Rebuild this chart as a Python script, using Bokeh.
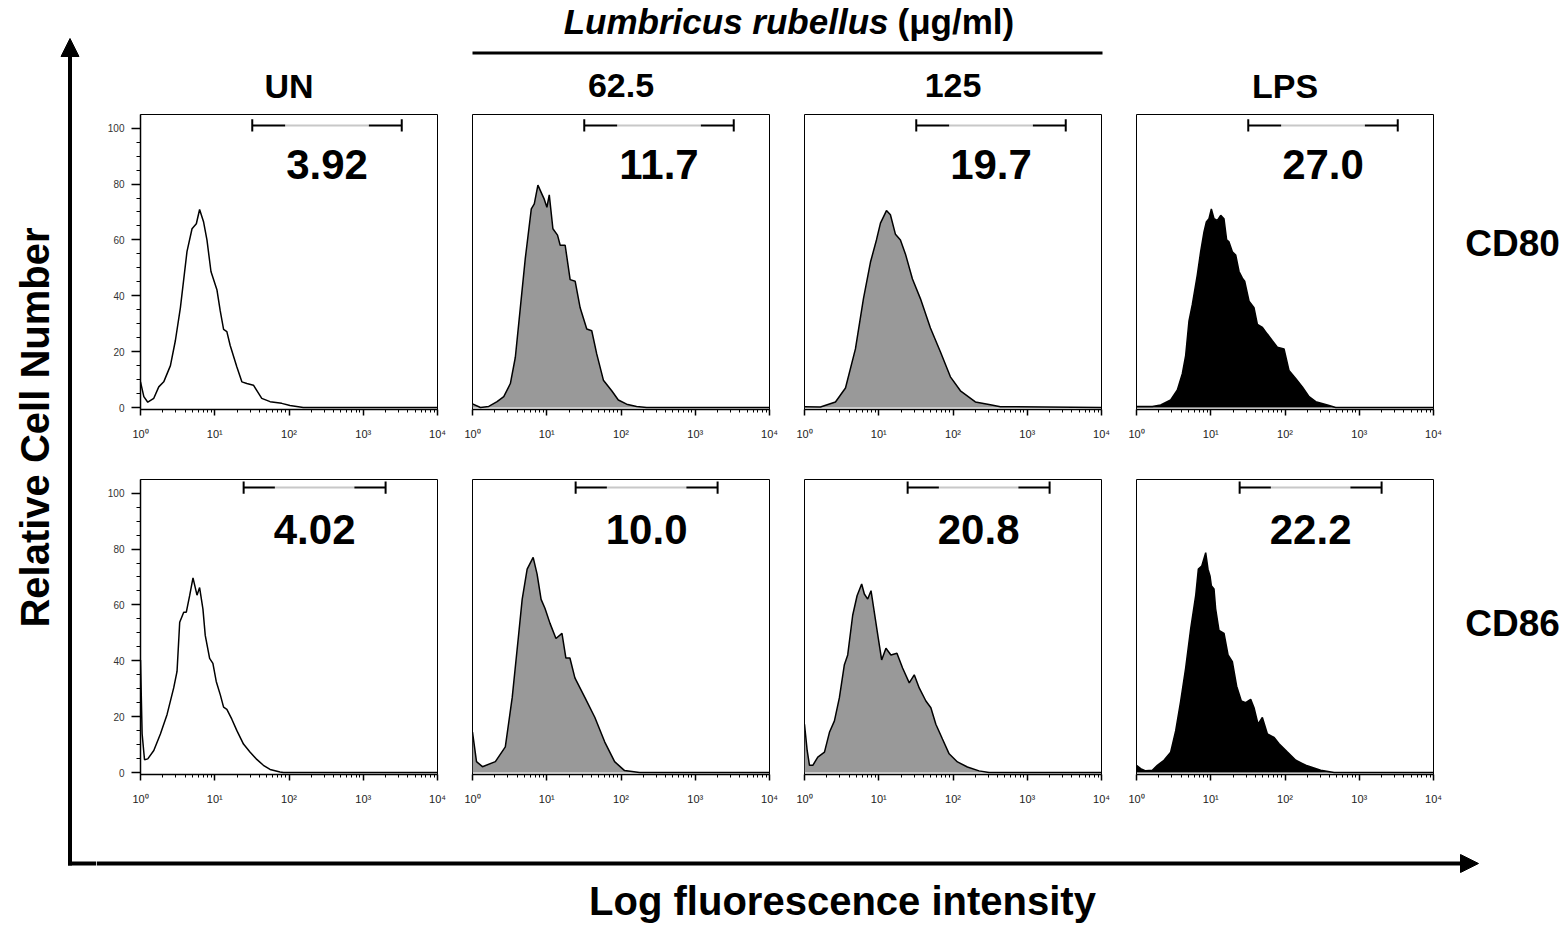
import numpy as np
from bokeh.plotting import figure
from bokeh.layouts import row, column
from bokeh.models import Range1d, FixedTicker, CustomJSTickFormatter, Arrow, NormalHead, Label
from bokeh.core.properties import value
from bokeh.embed import file_html
from bokeh.resources import INLINE

FONT = "Liberation Sans"

# ---------------- data ----------------
conditions = ["UN", "62.5", "125", "LPS"]
markers = ["CD80", "CD86"]
series_title = "Lumbricus rubellus"
series_unit = "(\u03bcg/ml)"
x_title = "Log fluorescence intensity"
y_title = "Relative Cell Number"

percent_cd80 = ["3.92", "11.7", "19.7", "27.0"]
percent_cd86 = ["4.02", "10.0", "20.8", "22.2"]

gate_cd80 = [32.0, 3300.0]     # fluorescence intensity
gate_cd86 = [24.5, 2000.0]

x_ticks = [1, 10, 100, 1000, 10000]
y_ticks = [0, 20, 40, 60, 80, 100]

# histograms: x = log10 fluorescence intensity, y = relative cell number
un_cd80_log = [0, 0.045, 0.098, 0.179, 0.246, 0.313, 0.403, 0.470, 0.537, 0.626, 0.694, 0.752, 0.796, 0.850,
               0.895, 0.949, 1.029, 1.074, 1.119, 1.163, 1.208, 1.298, 1.365, 1.432, 1.521, 1.633, 1.745, 1.902,
               2.013, 2.192, 4.0]
un_cd80_y = [9.2, 3.9, 1.9, 3.3, 7.4, 9.2, 15.0, 24.0, 35.7, 55.8, 64.0, 65.8, 70.9, 66.4, 60.0, 48.7, 42.2,
             34.6, 28.0, 27.2, 22.2, 14.5, 9.2, 8.6, 8.0, 3.3, 2.1, 1.5, 0.7, 0.0, 0.0]

lr62_cd80_log = [0, 0.107, 0.219, 0.331, 0.421, 0.510, 0.577, 0.644, 0.711, 0.792, 0.832, 0.881, 0.935, 0.966,
                 1.002, 1.034, 1.083, 1.145, 1.181, 1.248, 1.315, 1.383, 1.450, 1.539, 1.606, 1.673, 1.763,
                 1.875, 1.964, 2.076, 2.210, 2.345, 4.0]
lr62_cd80_y = [1.3, 0.0, 0.4, 2.1, 3.9, 8.6, 18.0, 35.7, 53.4, 71.1, 72.9, 79.6, 76.4, 74.6, 71.7, 76.1, 64.0,
               61.7, 58.1, 58.1, 45.8, 45.2, 35.7, 28.1, 27.5, 19.2, 9.8, 6.0, 2.7, 1.2, 0.4, 0.0, 0.0]

lr125_cd80_log = [0, 0.215, 0.417, 0.552, 0.686, 0.794, 0.888, 0.969, 1.023, 1.104, 1.157, 1.225, 1.292, 1.359,
                  1.454, 1.561, 1.696, 1.830, 1.965, 2.100, 2.301, 2.503, 2.638, 4.0]
lr125_cd80_y = [0.3, 0.2, 2.0, 7.0, 21.0, 39.0, 52.0, 60.0, 66.0, 70.5, 69.0, 62.0, 60.0, 55.0, 46.0, 39.0,
                28.5, 20.0, 11.0, 6.0, 2.0, 1.0, 0.3, 0.0]

lps_cd80_log = [0, 0.213, 0.326, 0.460, 0.550, 0.617, 0.662, 0.707, 0.752, 0.819, 0.864, 0.909, 0.940, 0.976,
                1.008, 1.044, 1.089, 1.134, 1.178, 1.214, 1.246, 1.291, 1.336, 1.381, 1.426, 1.457, 1.516,
                1.583, 1.628, 1.696, 1.762, 1.830, 1.897, 1.987, 2.054, 2.144, 2.234, 2.324, 2.414, 2.571,
                2.683, 4.0]
lps_cd80_y = [0.4, 0.4, 0.9, 2.7, 6.3, 12.1, 18.6, 31.0, 36.9, 47.5, 55.8, 62.9, 66.4, 67.6, 71.1, 67.6, 67.0,
              68.8, 67.6, 60.0, 59.3, 55.8, 54.6, 48.7, 46.3, 45.2, 38.1, 35.7, 29.8, 28.7, 26.3, 23.9, 21.6,
              21.0, 13.3, 10.4, 7.4, 3.9, 2.1, 0.9, 0.0, 0.0]

un_cd86_log = [0, 0.022, 0.054, 0.098, 0.179, 0.268, 0.358, 0.447, 0.492, 0.528, 0.582, 0.617, 0.662, 0.707,
               0.761, 0.796, 0.841, 0.872, 0.931, 0.975, 1.020, 1.074, 1.119, 1.163, 1.230, 1.298, 1.387, 1.477,
               1.566, 1.655, 1.745, 1.879, 1.924, 4.0]
un_cd86_y = [40.3, 13.8, 4.6, 4.9, 7.9, 13.8, 20.8, 30.3, 36.2, 53.8, 57.4, 57.4, 63.3, 69.7, 63.5, 66.2, 58.5,
             49.1, 40.9, 39.1, 32.6, 27.9, 23.4, 22.6, 19.1, 15.0, 10.2, 7.3, 4.7, 2.6, 1.1, 0.2, 0.0, 0.0]

lr62_cd86_log = [0, 0.054, 0.134, 0.308, 0.442, 0.535, 0.616, 0.669, 0.736, 0.817, 0.870, 0.924, 0.977, 1.044,
                 1.124, 1.205, 1.258, 1.312, 1.379, 1.513, 1.647, 1.780, 1.914, 2.048, 2.249, 4.0]
lr62_cd86_y = [14.5, 3.9, 2.1, 3.9, 9.2, 26.9, 48.0, 62.0, 72.8, 77.0, 71.0, 62.0, 58.7, 53.4, 48.0, 49.8, 41.0,
               41.0, 33.9, 26.9, 19.8, 11.0, 3.9, 0.7, 0.0, 0.0]

lr125_cd86_log = [0, 0.036, 0.067, 0.112, 0.179, 0.269, 0.336, 0.403, 0.470, 0.537, 0.582, 0.649, 0.708, 0.770,
                  0.806, 0.851, 0.896, 0.940, 0.994, 1.039, 1.097, 1.164, 1.245, 1.321, 1.411, 1.478, 1.545,
                  1.635, 1.702, 1.769, 1.858, 1.948, 2.060, 2.194, 2.351, 2.485, 4.0]
lr125_cd86_y = [17.3, 7.9, 2.6, 2.6, 5.5, 7.3, 14.4, 18.5, 26.8, 38.6, 42.1, 56.3, 63.3, 67.5, 63.9, 62.1, 65.1,
                57.4, 48.0, 40.3, 44.5, 42.1, 42.7, 37.4, 32.1, 35.0, 30.3, 25.6, 23.2, 17.3, 12.0, 6.7, 3.8,
                2.0, 0.6, 0.0, 0.0]

lps_cd86_log = [0, 0.056, 0.123, 0.213, 0.281, 0.370, 0.460, 0.528, 0.595, 0.662, 0.730, 0.797, 0.833, 0.878,
                0.932, 0.963, 0.990, 1.008, 1.044, 1.066, 1.111, 1.179, 1.233, 1.291, 1.349, 1.412, 1.470,
                1.538, 1.583, 1.637, 1.695, 1.763, 1.853, 1.920, 2.033, 2.145, 2.279, 2.481, 2.661, 4.0]
lps_cd86_y = [2.6, 1.4, 0.6, 0.8, 2.6, 4.4, 7.3, 15.0, 25.6, 37.4, 51.5, 63.3, 72.8, 73.9, 78.7, 72.8, 70.4,
              66.9, 65.7, 58.6, 50.9, 49.8, 42.1, 39.7, 30.9, 25.6, 25.0, 26.2, 23.2, 17.3, 19.7, 13.8, 12.6,
              10.3, 7.3, 4.4, 2.6, 0.8, 0.0, 0.0]

hist_log = [[un_cd80_log, lr62_cd80_log, lr125_cd80_log, lps_cd80_log],
            [un_cd86_log, lr62_cd86_log, lr125_cd86_log, lps_cd86_log]]
hist_y = [[un_cd80_y, lr62_cd80_y, lr125_cd80_y, lps_cd80_y],
          [un_cd86_y, lr62_cd86_y, lr125_cd86_y, lps_cd86_y]]
percents = [percent_cd80, percent_cd86]
gates = [gate_cd80, gate_cd86]

# ---------------- styles ----------------
FILLS = [None, "#999999", "#999999", "#000000"]
GATE_Y = [101.0, 102.0]
LABEL_Y = 87.0
COL_W = [353, 332, 332, 332]
ROW_H = [332, 365]
BORDER_TOP = [4, 37]
TOP_H = 110
RIGHT_W = 122


def strip(w, h, x0, x1, y_top, y_bottom):
    p = figure(width=w, height=h, x_range=Range1d(x0, x1), y_range=Range1d(y_bottom, y_top),
               toolbar_location=None, output_backend="svg", x_axis_location=None, y_axis_location=None,
               min_border=0)
    p.outline_line_color = None
    p.background_fill_color = None
    p.border_fill_color = None
    p.grid.visible = False
    return p


def label(p, x, y, text, size, style="bold", align="center", angle=0.0):
    p.add_layout(Label(x=x, y=y, text=text, text_font=FONT, text_font_size=size, text_font_style=style,
                       text_align=align, text_baseline="middle", angle=angle, text_color="black"))


minor = [m * 10 ** d for d in range(4) for m in range(2, 10)]
fmt = CustomJSTickFormatter(code="return '10' + '\u2070\u00b9\u00b2\u00b3\u2074'.charAt(Math.round(Math.log10(tick)));")


def panel(r, c):
    p = figure(width=COL_W[c], height=ROW_H[r], x_axis_type="log",
               x_range=Range1d(1, 10000), y_range=Range1d(-0.7, 104.9),
               toolbar_location=None, output_backend="svg",
               y_axis_location="left" if c == 0 else None,
               min_border_left=44 if c == 0 else 23, min_border_right=12,
               min_border_top=BORDER_TOP[r], min_border_bottom=30)
    p.grid.visible = False
    p.outline_line_color = "black"
    p.outline_line_width = 1
    xa = p.xaxis[0]
    xa.ticker = FixedTicker(ticks=x_ticks, minor_ticks=minor)
    xa.formatter = fmt
    xa.axis_line_width = 1.5
    xa.major_tick_out = 6
    xa.major_tick_in = 0
    xa.minor_tick_out = 3
    xa.minor_tick_in = 0
    xa.major_tick_line_width = 1.5
    xa.major_label_standoff = 12
    xa.major_label_text_font = FONT
    xa.major_label_text_font_size = "11px"
    xa.major_label_text_color = "#222222"
    if c == 0:
        ya = p.yaxis[0]
        ya.ticker = FixedTicker(ticks=y_ticks, minor_ticks=list(range(0, 101, 5)))
        ya.axis_line_width = 1.5
        ya.major_tick_out = 9
        ya.major_tick_in = 0
        ya.minor_tick_out = 4
        ya.minor_tick_in = 0
        ya.major_tick_line_width = 1.5
        ya.major_label_standoff = 7
        ya.major_label_text_font = FONT
        ya.major_label_text_font_size = "10px"
        ya.major_label_text_color = "#333333"

    x = 10 ** np.array(hist_log[r][c])
    y = np.array(hist_y[r][c])
    if FILLS[c] is not None:
        p.varea(x=x, y1=np.zeros_like(y), y2=y, fill_color=FILLS[c])
    p.line(x, y, line_color="black", line_width=1.5)

    lo, hi = gates[r]
    gy = GATE_Y[r]
    span = np.log10(hi / lo)
    b = 10 ** (span * 0.22)
    p.segment(x0=[lo * b], y0=[gy], x1=[hi / b], y1=[gy], line_color="#c8c8c8", line_width=2)
    p.segment(x0=[lo, hi / b], y0=[gy, gy], x1=[lo * b, hi], y1=[gy, gy], line_color="black", line_width=2)
    p.segment(x0=[lo, hi], y0=[gy - 2.2, gy - 2.2], x1=[lo, hi], y1=[gy + 2.2, gy + 2.2],
              line_color="black", line_width=2)

    p.text(x=[np.sqrt(lo * hi)], y=[LABEL_Y], text=[percents[r][c]], text_font=value(FONT),
           text_font_style="bold", text_font_size="42px", text_align="center", text_baseline="middle",
           text_color="black")
    return p


# ---------------- layout (page coordinates used only for decorations) ----------------
PAGE_W = 96 + sum(COL_W) + RIGHT_W
left = strip(96, 926, 0, 96, 0, 926)
left.add_layout(Arrow(end=NormalHead(size=18, fill_color="black", line_color="black", line_width=1),
                      x_start=69.5, y_start=865, x_end=69.5, y_end=38, line_width=4, line_color="black"))
left.segment(x0=[67.5], y0=[863], x1=[96], y1=[863], line_color="black", line_width=4)
label(left, 34, 427, y_title, "40px", angle=np.pi / 2)

top = strip(PAGE_W - 96, TOP_H, 96, PAGE_W, 0, TOP_H)
label(top, 888, 21, series_title, "35px", style="bold italic", align="right")
label(top, 897, 21, series_unit, "35px", align="left")
top.segment(x0=[472], y0=[52.5], x1=[1102], y1=[52.5], line_color="black", line_width=3)
for i, name in enumerate(conditions):
    label(top, 288.5 + 332 * i, 85, name, "34px")

bottom = strip(PAGE_W - 96, 119, 96, PAGE_W, 807, 926)
bottom.add_layout(Arrow(end=NormalHead(size=18, fill_color="black", line_color="black", line_width=1),
                        x_start=96, y_start=863, x_end=1478, y_end=863, line_width=4, line_color="black"))
label(bottom, 842, 900, x_title, "40px")

rows = []
row_tops = [TOP_H, TOP_H + ROW_H[0]]
marker_y = [255, 620]
x_right = 96 + sum(COL_W)
for r in range(2):
    panels = [panel(r, c) for c in range(4)]
    lab = strip(RIGHT_W, ROW_H[r], x_right, PAGE_W, row_tops[r], row_tops[r] + ROW_H[r])
    label(lab, 1512, marker_y[r], markers[r], "37px")
    rows.append(row(*panels, lab, spacing=0))

layout = row(left, column(top, rows[0], rows[1], bottom, spacing=0), spacing=0)

with open("out.html", "w", encoding="utf-8") as f:
    f.write(file_html(layout, INLINE, title="Flow cytometry histograms"))
